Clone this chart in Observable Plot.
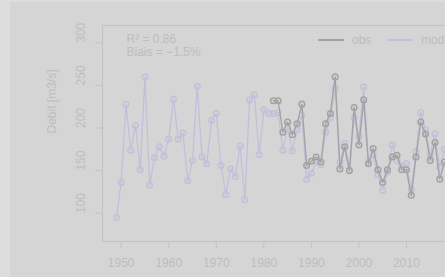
<!DOCTYPE html>
<html><head><meta charset="utf-8">
<script src="https://cdn.jsdelivr.net/npm/d3@7"></script>
<script src="https://cdn.jsdelivr.net/npm/@observablehq/plot@0.6"></script>
<style>
html,body{margin:0;padding:0;background:#dddddd;width:445px;height:277px;overflow:hidden;}
#wrap{position:absolute;left:10px;top:2px;width:435px;height:275px;overflow:hidden;background:#d5d5d5;}
#chart{position:absolute;left:-10px;top:-2px;width:470px;height:277px;}
#chart svg{max-width:none !important;}
#legend{position:absolute;left:-10px;top:-2px;}
svg text{font-family:"Liberation Sans",Arial,sans-serif;}
</style></head><body>
<div id="wrap"><div id="chart"></div><svg id="legend" width="470" height="277"></svg></div>
<script>
const modStart = 1949;
const modValues = [95,136,228,174,203,151,260,133,165,178,167,187,234,187,194,138,162,249,166,158,
  209,217,156,122,152,143,179,116,233,239,169,221,217,217,218,174,200,173,198,215,
  140,147,160,157,195,212,247,160,182,150,212,190,248,160,168,145,127,148,180,162,
  155,158,128,172,218,198,168,193,154,175];
const obsStart = 1982;
const obsValues = [232,232,195,207,192,205,228,156,161,166,160,205,217,260,152,178,150,224,180,233,
  158,176,151,136,151,166,168,151,151,121,166,207,193,162,183,140,160];
const xTicks = [1950,1960,1970,1980,1990,2000,2010];
const yTicks = [100,150,200,250,300];
const yLabel = "Debit [m3/s]";
const statLines = ["R\u00b2 = 0.86", "Biais = \u22121.5%"];
const seriesNames = ["obs", "mod"];

const mod = modValues.map((v,i)=>({year: modStart+i, v}));
const obs = obsValues.map((v,i)=>({year: obsStart+i, v}));

const cText = "#bdbdbd", cObs = "#a3a3a3", cMod = "#c0c0da", cFrame = "#c3c3c3";

const plot = Plot.plot({
  width: 470, height: 277,
  marginLeft: 102, marginRight: 13, marginTop: 25, marginBottom: 36,
  style: {background: "transparent", fontFamily: "Liberation Sans, Arial, sans-serif", fontSize: "12px", color: cText, maxWidth: "none"},
  x: {domain: [1946.07, 2020.73]},
  y: {domain: [66.8, 320.3]},
  marks: [
    Plot.frame({stroke: cFrame, strokeWidth: 1.2}),
    Plot.axisX({ticks: xTicks, tickSize: 7, tickPadding: 10, tickFormat: d=>String(d), stroke: cFrame, fill: cText, label: null, fontSize: 12}),
    Plot.axisY({ticks: yTicks, tickSize: 7, tickFormat: ()=>"", stroke: cFrame, label: null}),
    Plot.text(yTicks, {y: d=>d, text: d=>String(d), frameAnchor: "left", dx: -21, rotate: -90, fill: cText, fontSize: 12}),
    Plot.text([yLabel], {frameAnchor: "left", dx: -50, rotate: -90, fill: cText, fontSize: 12}),
    Plot.text([statLines.join("\n")], {frameAnchor: "top-left", dx: 24, dy: 9, lineHeight: 1.05, fill: cText, fontSize: 12, textAnchor: "start", lineAnchor: "top"}),
    Plot.line(mod, {x: "year", y: "v", stroke: cMod, strokeWidth: 1.3}),
    Plot.dot(mod, {x: "year", y: "v", stroke: cMod, r: 2.8, strokeWidth: 1.4, fill: "none"}),
    Plot.line(obs, {x: "year", y: "v", stroke: cObs, strokeWidth: 1.4}),
    Plot.dot(obs, {x: "year", y: "v", stroke: cObs, r: 2.8, strokeWidth: 1.5, fill: "none"})
  ]
});
plot.style.maxWidth = "none";
document.getElementById("chart").append(plot);

// legend (top-right inside frame)
const lg = d3.select("#legend");
const items = [{name: seriesNames[0], color: cObs, x: 318}, {name: seriesNames[1], color: cMod, x: 387}];
items.forEach(it => {
  lg.append("line").attr("x1", it.x).attr("x2", it.x+26).attr("y1", 40).attr("y2", 40)
    .attr("stroke", it.color).attr("stroke-width", 2);
  lg.append("text").attr("x", it.x+34).attr("y", 44).attr("fill", cText)
    .attr("font-size", 12).text(it.name);
});
</script>
</body></html>
